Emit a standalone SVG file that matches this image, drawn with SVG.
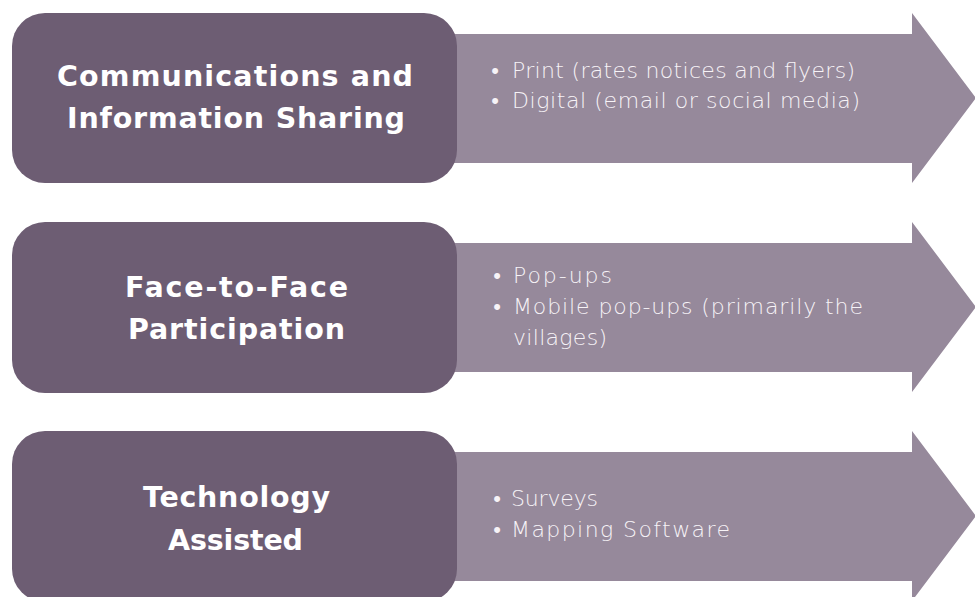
<svg xmlns="http://www.w3.org/2000/svg" width="975" height="597" viewBox="0 0 975 597">
<style>
.arrow{fill:#96899b}
.box{fill:#6d5d73}
.title{font-family:"DejaVu Sans","Liberation Sans",sans-serif;font-weight:bold;font-size:28.5px;fill:#ffffff}
.item{font-family:"DejaVu Sans","Liberation Sans",sans-serif;font-weight:200;font-size:22px;fill:#f7f3f7}
.dot{font-family:"DejaVu Sans","Liberation Sans",sans-serif;font-weight:200;font-size:22px;fill:#f7f3f7;text-anchor:middle}
</style>
<rect width="975" height="597" fill="#ffffff"/>
<g id="connectors"/>
<g id="arrow1"><path class="arrow" d="M440 34H912V13L976 98L912 183V163H440Z"/>
<text class="dot" x="495" y="78">•</text><text class="item" x="512" y="78" textLength="343" lengthAdjust="spacing">Print (rates notices and flyers)</text>
<text class="dot" x="495" y="108">•</text><text class="item" x="512" y="108" textLength="348" lengthAdjust="spacing">Digital (email or social media)</text></g>
<g id="arrow2"><path class="arrow" d="M440 243H912V222L976 307L912 392V372H440Z"/>
<text class="dot" x="497" y="283">•</text><text class="item" x="513" y="283" textLength="99" lengthAdjust="spacing">Pop-ups</text>
<text class="dot" x="497" y="314">•</text><text class="item" x="513" y="314" textLength="350" lengthAdjust="spacing">Mobile pop-ups (primarily the</text>
<text class="item" x="513" y="345" textLength="94" lengthAdjust="spacing">villages)</text></g>
<g id="arrow3"><path class="arrow" d="M440 452H912V431L976 516L912 601V581H440Z"/>
<text class="dot" x="497" y="506">•</text><text class="item" x="511" y="506" textLength="87" lengthAdjust="spacing">Surveys</text>
<text class="dot" x="497" y="537">•</text><text class="item" x="511" y="537" textLength="219" lengthAdjust="spacing">Mapping Software</text></g>
<g id="box1"><rect class="box" x="12" y="13" width="445" height="170" rx="33"/>
<text class="title" x="57" y="86" textLength="356" lengthAdjust="spacing">Communications and</text>
<text class="title" x="67" y="128" textLength="338" lengthAdjust="spacing">Information Sharing</text></g>
<g id="box2"><rect class="box" x="12" y="222" width="445" height="171" rx="33"/>
<text class="title" x="125" y="297" textLength="223" lengthAdjust="spacing">Face-to-Face</text>
<text class="title" x="128" y="339" textLength="217" lengthAdjust="spacing">Participation</text></g>
<g id="box3"><rect class="box" x="12" y="431" width="445" height="171" rx="33"/>
<text class="title" x="143" y="507" textLength="187" lengthAdjust="spacing">Technology</text>
<text class="title" x="168" y="550" textLength="135" lengthAdjust="spacing">Assisted</text></g>
</svg>
